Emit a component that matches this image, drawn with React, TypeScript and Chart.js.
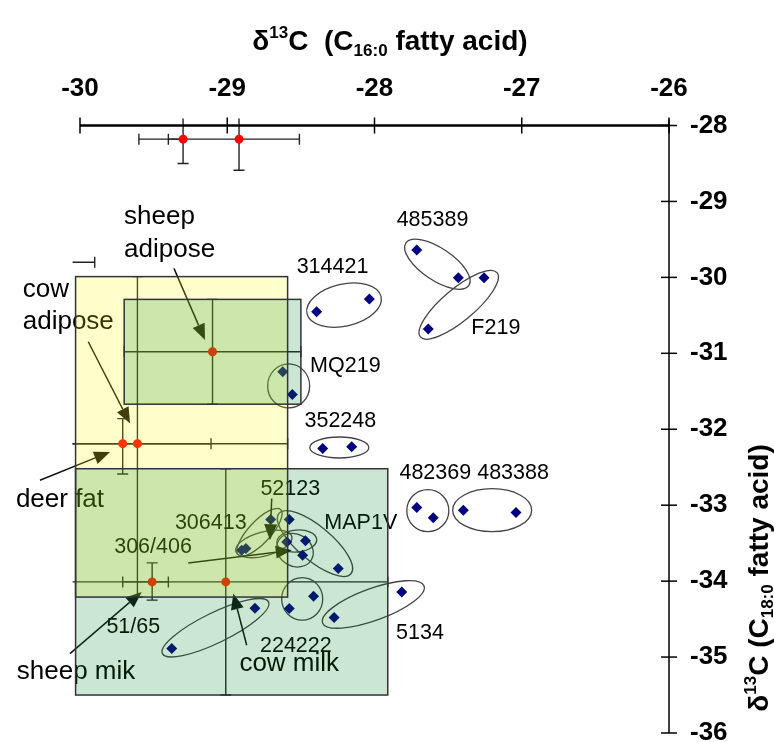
import React, { useEffect, useRef } from "react";
import { Chart, registerables } from "chart.js";

Chart.register(...registerables);

// ---------- axes ----------
const X_TICKS = [-30, -29, -28, -27, -26];
const Y_TICKS = [-28, -29, -30, -31, -32, -33, -34, -35, -36];
const X_MIN = -30.03;
const X_MAX = -26;
const Y_MIN = -36;
const Y_MAX = -28;

// ---------- archaeological samples (diamonds) ----------
const SAMPLE_X = [
  -28.393, -28.035, -27.713, -27.431, -27.256, -27.635, -28.623, -28.558,
  -28.352, -28.155, -27.713, -27.601, -27.397, -27.039, -28.705, -28.579,
  -28.902, -28.873, -28.596, -28.469, -28.488, -28.246, -28.414, -28.579,
  -27.815, -28.274, -28.812, -29.377,
];
const SAMPLE_Y = [
  -30.453, -30.286, -29.640, -30.005, -30.005, -30.681, -31.244, -31.542,
  -32.253, -32.232, -33.030, -33.167, -33.066, -33.096, -33.188, -33.188,
  -33.593, -33.571, -33.484, -33.468, -33.659, -33.834, -34.199, -34.361,
  -34.142, -34.480, -34.357, -34.888,
];

// ---------- modern reference fats (mean with error ranges) ----------
const REF_NAMES = ["ref A", "ref B", "sheep adipose", "deer fat", "cow adipose", "sheep milk", "cow milk", "off-scale"];
const REF_X = [-29.30, -28.92, -29.10, -29.71, -29.61, -29.51, -29.01, -30.30];
const REF_Y = [-28.18, -28.18, -30.98, -32.19, -32.19, -34.01, -34.01, -29.80];
const REF_XERR_MINUS = [0.30, 0.48, 0.60, 0.60, 1.02, 0.20, 1.10, 0.40];
const REF_XERR_PLUS = [0.0, 0.41, 0.60, 0.60, 1.02, 0.11, 1.10, 0.40];
const REF_YERR_PLUS = [0.32, 0.41, 0.69, 0.33, 2.20, 0.25, 1.49, 0];
const REF_YERR_MINUS = [0.32, 0.41, 0.69, 0.40, 2.02, 0.24, 1.49, 0];

// which reference ranges are shaded as boxes
const BOX_REFS = [4, 2, 6];
const BOX_COLORS = ["rgba(255,255,0,0.2)", "rgba(0,128,40,0.2)", "rgba(0,128,40,0.2)"];

// ---------- sample group labels ----------
const SAMPLE_LABELS = ["485389", "314421", "F219", "MQ219", "352248", "482369", "483388", "52123", "306413", "MAP1V", "306/406", "51/65", "224222", "5134"];
const SAMPLE_LABEL_X = [-27.606, -28.285, -27.176, -28.198, -28.232, -27.587, -27.059, -28.572, -29.112, -28.093, -29.504, -29.638, -28.534, -27.691];
const SAMPLE_LABEL_Y = [-29.245, -29.860, -30.672, -31.165, -31.889, -32.582, -32.582, -32.793, -33.241, -33.241, -33.549, -34.611, -34.858, -34.690];

// ---------- reference labels ----------
const REF_LABELS = ["sheep", "adipose", "cow", "adipose", "deer fat", "sheep mik", "cow milk"];
const REF_LABEL_X = [-29.701, -29.701, -30.389, -30.389, -30.136, -30.027, -28.579];
const REF_LABEL_Y = [-29.209, -29.640, -30.158, -30.585, -32.934, -35.196, -35.086];
const REF_LABEL_ALIGN = ["left", "left", "left", "left", "center", "center", "center"];

// ---------- group ellipses (centre in data units) ----------
const ELL_X = [-28.207, -27.573, -27.428, -28.583, -28.239, -27.638, -27.201, -29.080, -28.491, -28.008, -28.404, -28.781, -28.752, -28.528, -28.540];
const ELL_Y = [-30.365, -29.827, -30.361, -31.430, -32.240, -33.072, -33.066, -34.614, -34.234, -34.307, -33.505, -33.356, -33.510, -33.472, -33.593];
const ELL_A = [38, 38, 50, 21, 29.5, 21, 39.5, 59, 20.5, 54, 47, 31, 29, 20, 19];
const ELL_B = [21, 16, 16, 22, 10.5, 21, 21.5, 15, 21.3, 16, 17, 11, 12, 11, 16];
const ELL_ROT = [-13, 34, -40, 0, 0, 0, 0, -26, 0, -20, 40, -47, -15, -5, 30];

// ---------- arrows (data units) ----------
const ARROW_X0 = [-29.362, -29.944, -30.272, -30.068, -28.868, -28.698, -29.265];
const ARROW_Y0 = [-29.881, -30.848, -32.671, -34.954, -34.845, -32.912, -33.760];
const ARROW_X1 = [-29.151, -29.660, -29.796, -29.581, -28.959, -28.710, -28.562];
const ARROW_Y1 = [-30.826, -31.924, -32.298, -34.142, -34.163, -33.461, -33.593];

const FONT = "'Liberation Sans', Arial, sans-serif";

function drawRich(ctx: CanvasRenderingContext2D, parts: { t: string; s: number; dy: number }[], cx: number, base: number) {
  let total = 0;
  for (const p of parts) {
    ctx.font = `bold ${p.s}px ${FONT}`;
    total += ctx.measureText(p.t).width;
  }
  let x = cx - total / 2;
  ctx.textAlign = "left";
  ctx.textBaseline = "alphabetic";
  for (const p of parts) {
    ctx.font = `bold ${p.s}px ${FONT}`;
    ctx.fillText(p.t, x, base + p.dy);
    x += ctx.measureText(p.t).width;
  }
}

const overlay = {
  id: "overlay",
  beforeDatasetsDraw(chart: any) {
    const { ctx, chartArea: a, scales } = chart;
    const xs = scales.x, ys = scales.y;
    // error bars
    ctx.save();
    ctx.beginPath();
    ctx.rect(a.left - 3, a.top - 7, a.right - a.left + 3, a.bottom - a.top + 7);
    ctx.clip();
    ctx.strokeStyle = "#222";
    ctx.lineWidth = 1.4;
    const cap = 5.5;
    const seg = (x1: number, y1: number, x2: number, y2: number) => {
      ctx.beginPath();
      ctx.moveTo(x1, y1);
      ctx.lineTo(x2, y2);
      ctx.stroke();
    };
    for (let i = 0; i < REF_X.length; i++) {
      const cx = xs.getPixelForValue(REF_X[i]);
      const cy = ys.getPixelForValue(REF_Y[i]);
      const xl = xs.getPixelForValue(REF_X[i] - REF_XERR_MINUS[i]);
      const xr = xs.getPixelForValue(REF_X[i] + REF_XERR_PLUS[i]);
      seg(xl, cy, xr, cy);
      if (REF_XERR_MINUS[i] > 0) seg(xl, cy - cap, xl, cy + cap);
      if (REF_XERR_PLUS[i] > 0) seg(xr, cy - cap, xr, cy + cap);
      if (REF_YERR_PLUS[i] > 0 || REF_YERR_MINUS[i] > 0) {
        const yt = ys.getPixelForValue(REF_Y[i] + REF_YERR_PLUS[i]);
        const yb = ys.getPixelForValue(REF_Y[i] - REF_YERR_MINUS[i]);
        seg(cx, yt, cx, yb);
        if (REF_YERR_PLUS[i] > 0) seg(cx - cap, yt, cx + cap, yt);
        if (REF_YERR_MINUS[i] > 0) seg(cx - cap, yb, cx + cap, yb);
      }
    }
    ctx.restore();
    // ellipses
    ctx.save();
    ctx.strokeStyle = "#444";
    ctx.lineWidth = 1.3;
    for (let i = 0; i < ELL_X.length; i++) {
      ctx.beginPath();
      ctx.ellipse(xs.getPixelForValue(ELL_X[i]), ys.getPixelForValue(ELL_Y[i]), ELL_A[i], ELL_B[i], (ELL_ROT[i] * Math.PI) / 180, 0, Math.PI * 2);
      ctx.stroke();
    }
    ctx.restore();
  },
  afterDatasetsDraw(chart: any) {
    const { ctx, scales } = chart;
    const xs = scales.x, ys = scales.y;
    ctx.save();
    ctx.fillStyle = "#000";
    ctx.textBaseline = "middle";
    // sample labels
    ctx.font = `21.5px ${FONT}`;
    ctx.textAlign = "center";
    for (let i = 0; i < SAMPLE_LABELS.length; i++) {
      ctx.fillText(SAMPLE_LABELS[i], xs.getPixelForValue(SAMPLE_LABEL_X[i]), ys.getPixelForValue(SAMPLE_LABEL_Y[i]));
    }
    // reference labels
    ctx.font = `26px ${FONT}`;
    for (let i = 0; i < REF_LABELS.length; i++) {
      ctx.textAlign = REF_LABEL_ALIGN[i] as CanvasTextAlign;
      ctx.fillText(REF_LABELS[i], xs.getPixelForValue(REF_LABEL_X[i]), ys.getPixelForValue(REF_LABEL_Y[i]));
    }
    // arrows
    ctx.strokeStyle = "#111";
    ctx.fillStyle = "#111";
    ctx.lineWidth = 1.5;
    for (let i = 0; i < ARROW_X0.length; i++) {
      const x0 = xs.getPixelForValue(ARROW_X0[i]);
      const y0 = ys.getPixelForValue(ARROW_Y0[i]);
      const x1 = xs.getPixelForValue(ARROW_X1[i]);
      const y1 = ys.getPixelForValue(ARROW_Y1[i]);
      const ang = Math.atan2(y1 - y0, x1 - x0);
      const L = 16, W = 6.5;
      const bx = x1 - L * Math.cos(ang), by = y1 - L * Math.sin(ang);
      ctx.beginPath();
      ctx.moveTo(x0, y0);
      ctx.lineTo(bx, by);
      ctx.stroke();
      ctx.beginPath();
      ctx.moveTo(x1, y1);
      ctx.lineTo(bx + W * Math.sin(ang), by - W * Math.cos(ang));
      ctx.lineTo(bx - W * Math.sin(ang), by + W * Math.cos(ang));
      ctx.closePath();
      ctx.fill();
    }
    // shaded reference boxes (on top, translucent)
    for (let k = 0; k < BOX_REFS.length; k++) {
      const i = BOX_REFS[k];
      const x0 = xs.getPixelForValue(Math.max(X_MIN, REF_X[i] - REF_XERR_MINUS[i]));
      const x1 = xs.getPixelForValue(Math.min(X_MAX, REF_X[i] + REF_XERR_PLUS[i]));
      const y0 = ys.getPixelForValue(REF_Y[i] + REF_YERR_PLUS[i]);
      const y1 = ys.getPixelForValue(REF_Y[i] - REF_YERR_MINUS[i]);
      ctx.fillStyle = BOX_COLORS[k];
      ctx.fillRect(x0, y0, x1 - x0, y1 - y0);
    }
    ctx.strokeStyle = "#333";
    ctx.lineWidth = 1.5;
    for (let k = 0; k < BOX_REFS.length; k++) {
      const i = BOX_REFS[k];
      const x0 = xs.getPixelForValue(Math.max(X_MIN, REF_X[i] - REF_XERR_MINUS[i]));
      const x1 = xs.getPixelForValue(Math.min(X_MAX, REF_X[i] + REF_XERR_PLUS[i]));
      const y0 = ys.getPixelForValue(REF_Y[i] + REF_YERR_PLUS[i]);
      const y1 = ys.getPixelForValue(REF_Y[i] - REF_YERR_MINUS[i]);
      ctx.strokeRect(x0, y0, x1 - x0, y1 - y0);
    }
    ctx.restore();
  },
  afterDraw(chart: any) {
    const { ctx, chartArea: a, scales } = chart;
    const xs = scales.x, ys = scales.y;
    ctx.save();
    ctx.strokeStyle = "#000";
    // top x axis
    ctx.lineWidth = 2.5;
    ctx.beginPath();
    ctx.moveTo(xs.getPixelForValue(X_TICKS[0]), a.top);
    ctx.lineTo(xs.getPixelForValue(X_TICKS[X_TICKS.length - 1]), a.top);
    ctx.stroke();
    ctx.lineWidth = 1.5;
    for (const v of X_TICKS) {
      const p = xs.getPixelForValue(v);
      ctx.beginPath();
      ctx.moveTo(p, a.top - 8);
      ctx.lineTo(p, a.top + 8);
      ctx.stroke();
    }
    // right y axis
    ctx.beginPath();
    ctx.moveTo(a.right, a.top - 6);
    ctx.lineTo(a.right, a.bottom);
    ctx.stroke();
    for (const v of Y_TICKS) {
      const p = ys.getPixelForValue(v);
      ctx.beginPath();
      ctx.moveTo(a.right - 8, p);
      ctx.lineTo(a.right + 8, p);
      ctx.stroke();
    }
    // titles
    ctx.fillStyle = "#000";
    drawRich(
      ctx,
      [
        { t: "δ", s: 28, dy: 0 },
        { t: "13", s: 17, dy: -12 },
        { t: "C  (C", s: 28, dy: 0 },
        { t: "16:0", s: 17, dy: 6 },
        { t: " fatty acid)", s: 28, dy: 0 },
      ],
      390,
      50
    );
    ctx.translate(768, 578);
    ctx.rotate(-Math.PI / 2);
    drawRich(
      ctx,
      [
        { t: "δ", s: 28, dy: 0 },
        { t: "13", s: 17, dy: -12 },
        { t: "C (C", s: 28, dy: 0 },
        { t: "18:0", s: 17, dy: 5 },
        { t: " fatty acid)", s: 28, dy: 0 },
      ],
      0,
      0
    );
    ctx.restore();
  },
};

export default function App() {
  const ref = useRef<HTMLCanvasElement | null>(null);
  useEffect(() => {
    if (!ref.current) return;
    const chart = new Chart(ref.current, {
      type: "scatter",
      data: {
        datasets: [
          {
            label: "samples",
            data: SAMPLE_X.map((x, i) => ({ x, y: SAMPLE_Y[i] })),
            pointStyle: "rectRot",
            pointRadius: 5.5,
            backgroundColor: "#000080",
            borderColor: "#000080",
            borderWidth: 0,
          },
          {
            label: "reference fats",
            data: REF_X.map((x, i) => ({ x, y: REF_Y[i] })),
            pointStyle: "circle",
            pointRadius: 4.5,
            backgroundColor: "#ff0000",
            borderColor: "#ff0000",
            borderWidth: 0,
          },
        ],
      },
      options: {
        animation: false,
        responsive: false,
        devicePixelRatio: 1,
        events: [],
        layout: { padding: { left: 80 + (X_MIN + 30) * 147.25, right: 0, top: 0, bottom: 9 } },
        plugins: { legend: { display: false }, tooltip: { enabled: false }, title: { display: false } },
        scales: {
          x: {
            type: "linear",
            position: "top",
            min: X_MIN,
            max: X_MAX,
            grid: { display: false, drawTicks: false },
            border: { display: false },
            afterBuildTicks: (s: any) => {
              s.ticks = X_TICKS.map((v) => ({ value: v }));
            },
            afterFit: (s: any) => {
              s.height = 125.5;
              s.paddingLeft = 0;
              s.paddingRight = 0;
              s.paddingTop = 0;
              s.paddingBottom = 0;
            },
            ticks: {
              color: "#000",
              padding: 21,
              maxRotation: 0,
              autoSkip: false,
              font: { family: FONT, size: 26, weight: "bold" },
              callback: (v: any) => String(v),
            },
          },
          y: {
            type: "linear",
            position: "right",
            min: Y_MIN,
            max: Y_MAX,
            grid: { display: false, drawTicks: false },
            border: { display: false },
            afterBuildTicks: (s: any) => {
              s.ticks = Y_TICKS.map((v) => ({ value: v }));
            },
            afterFit: (s: any) => {
              s.width = 105;
              s.paddingLeft = 0;
              s.paddingRight = 0;
              s.paddingTop = 0;
              s.paddingBottom = 0;
            },
            ticks: {
              color: "#000",
              padding: 21,
              autoSkip: false,
              font: { family: FONT, size: 26, weight: "bold" },
              callback: (v: any) => String(v),
            },
          },
        },
      },
      plugins: [overlay],
    } as any);
    return () => chart.destroy();
  }, []);
  return (
    <div style={{ position: "absolute", left: 0, top: 0, width: 774, height: 742, background: "#fff" }}>
      <canvas ref={ref} width={774} height={742} />
    </div>
  );
}
